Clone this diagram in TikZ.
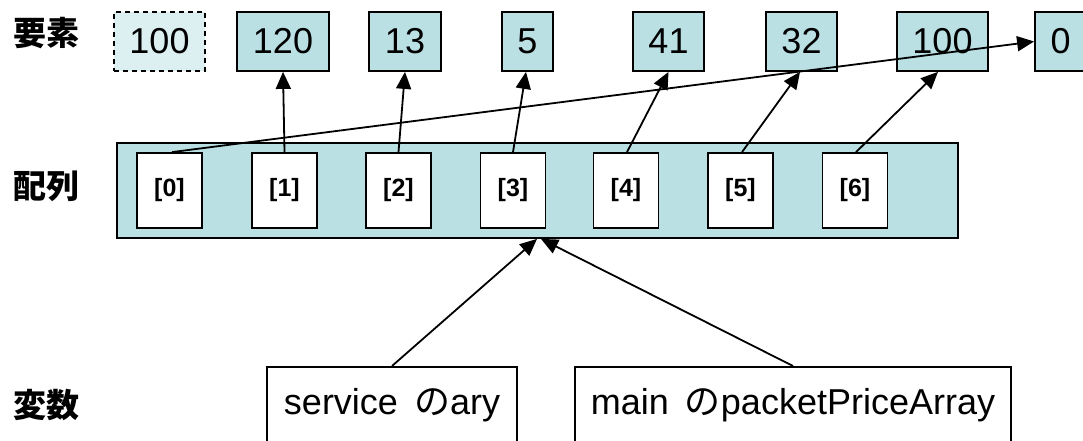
\documentclass[tikz,border=0pt]{standalone}
\usepackage{fontspec}
\setmainfont{Liberation Sans}
\newfontfamily\jp{Noto Sans CJK JP}
\usetikzlibrary{arrows.meta}
\definecolor{cellfill}{HTML}{BAE0E3}
\definecolor{ghostfill}{HTML}{DCEFF1}
\tikzset{
  elem/.style={draw, line width=1.8pt, fill=cellfill, minimum height=59pt, inner sep=0pt,
    font=\fontsize{36}{38}\selectfont},
  ghost/.style={elem, fill=ghostfill, dashed, dash pattern=on 5pt off 4pt},
  idxbox/.style={draw, line width=1.8pt, fill=white, minimum width=65pt, minimum height=75pt,
    inner sep=0pt, font=\fontsize{25}{27}\selectfont\bfseries},
  varbox/.style={draw, line width=1.8pt, fill=white, anchor=north, inner xsep=0pt, inner ysep=0pt,
    text height=48pt, text depth=57pt, font=\fontsize{36}{38}\selectfont},
  rowlabel/.style={font=\jp\bfseries\fontsize{33}{36}\selectfont, inner sep=0pt},
  ptr/.style={line width=1.8pt, -{Triangle[length=17pt,width=15pt]}}
}
\begin{document}
\begin{tikzpicture}[x=1pt, y=-1pt]
\useasboundingbox (0,0) rectangle (1083,441);
\clip (0,0) rectangle (1083,441);

% row labels
\node[rowlabel] (lelem) at (46,33) {要素};
\node[rowlabel] (larr) at (46,186) {配列};
\node[rowlabel] (lvar) at (46,405) {変数};

% element values
\node[ghost, minimum width=91pt] (e0) at (159.5,41.5) {100};
\node[elem, minimum width=92pt] (e1) at (283,41.5) {120};
\node[elem, minimum width=72pt] (e2) at (405,41.5) {13};
\node[elem, minimum width=51pt] (e3) at (527.5,41.5) {5};
\node[elem, minimum width=71pt] (e4) at (668.5,41.5) {41};
\node[elem, minimum width=71pt] (e5) at (801.5,41.5) {32};
\node[elem, minimum width=91pt] (e6) at (942.5,41.5) {100};
\node[elem, minimum width=51pt] (e7) at (1060.5,41.5) {0};

% the array object with its slots
\node[draw, line width=1.8pt, fill=cellfill, minimum width=841pt, minimum height=95pt, inner sep=0pt]
  (arr) at (537.5,190.5) {};
\foreach \i/\x in {0/169.5,1/284.5,2/398.5,3/513,4/626,5/740.5,6/855}
  \node[idxbox] (i\i) at (\x,190.5) {[\i]};

% slot references
\draw[ptr] ([xshift=2.5pt]i0.north) -- (e7.west);
\draw[ptr] (i1.north) -- (e1.south);
\draw[ptr] (i2.north) -- (e2.south);
\draw[ptr] (i3.north) -- ([xshift=-1.5pt]e3.south);
\draw[ptr] ([xshift=1pt]i4.north) -- (e4.south);
\draw[ptr] ([xshift=1.5pt]i5.north) -- ([xshift=-1.5pt]e5.south);
\draw[ptr] ([xshift=1pt]i6.north) -- ([xshift=-4.5pt]e6.south);

% variables
\node[varbox, minimum width=250pt] (v1) at (392,366) {service\hspace{6pt} {\jp の}ary};
\node[varbox, minimum width=436pt] (v2) at (793,366) {main\hspace{6pt} {\jp の}packetPriceArray};
\draw[ptr] (v1.north) -- ([xshift=-0.5pt]arr.south);
\draw[ptr] (v2.north) -- ([xshift=3.5pt]arr.south);
\end{tikzpicture}
\end{document}
